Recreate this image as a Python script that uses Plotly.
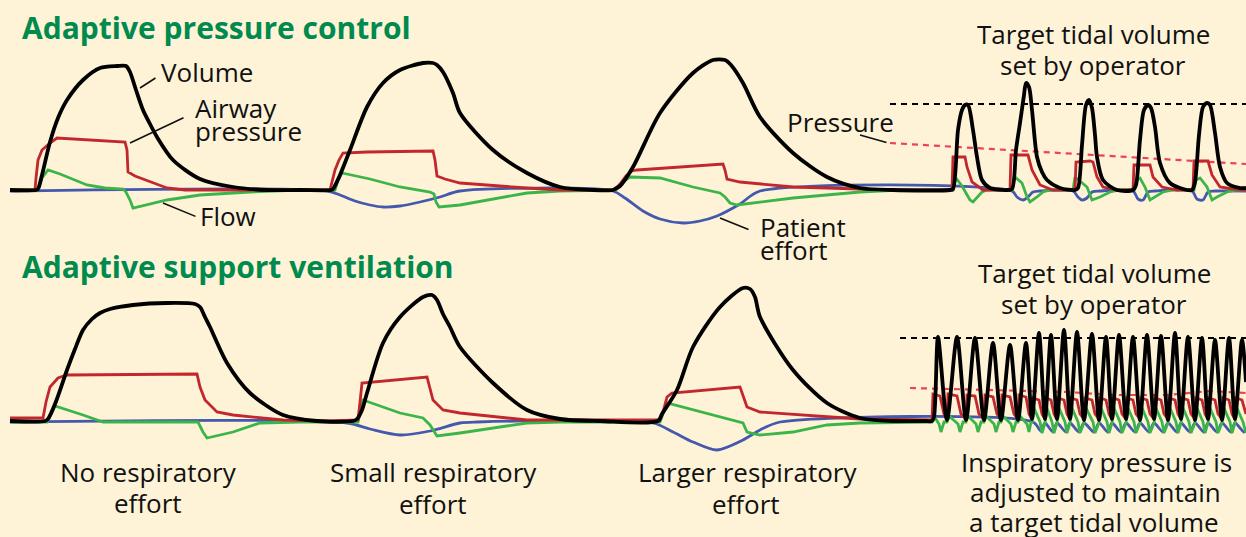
import plotly.graph_objects as go

W, H = 1246, 537
BG = "#FEF3D6"
C_VOL = "#000000"
C_PRES = "#C1272D"
C_FLOW = "#3BB54A"
C_EFF = "#4458AE"
C_TGT_P = "#F0405A"
C_TITLE = "#008A4E"

# ---------------- Top panel: Adaptive pressure control (value = height above baseline) -------------
APC_VOLUME_X = [10, 36, 38, 42, 50, 58, 67, 83, 100, 117, 126, 130, 136, 143, 150, 157, 173, 200, 233, 267, 300, 331,
                333, 340, 350, 367, 383, 400, 423, 433, 437, 443, 453, 460, 493, 527, 560, 593, 613,
                615, 620, 633, 660, 693, 713, 725, 731, 743, 760, 793, 827, 860, 893, 950,
                953, 958, 962, 965, 968, 973, 977, 982, 990, 1007,
                1012, 1016, 1020, 1024, 1026, 1029, 1032, 1037, 1042, 1047, 1060, 1075,
                1078, 1082, 1086, 1089, 1092, 1095, 1097, 1103, 1117, 1133,
                1136, 1140, 1144, 1148, 1151, 1155, 1160, 1170, 1187, 1192,
                1195, 1199, 1203, 1207, 1210, 1215, 1220, 1227, 1240, 1246]
APC_VOLUME_Y = [0, 0, 1, 15, 48, 72, 90, 110, 122, 124, 124, 118, 100, 80, 66, 53, 30, 11, 3, 0, 0, 0,
                1, 15, 40, 83, 107, 120, 127, 127, 125, 118, 97, 77, 40, 17, 3, 0, 0,
                1, 4, 23, 77, 117, 130, 130, 125, 107, 73, 37, 13, 2, 0, 0,
                1, 60, 80, 85, 85, 60, 33, 10, 2, 0,
                1, 40, 67, 95, 107, 103, 80, 33, 18, 10, 2, 0,
                2, 45, 85, 90, 82, 55, 33, 10, 0, 0,
                5, 50, 80, 85, 82, 63, 27, 7, 0, 0,
                8, 55, 83, 87, 85, 57, 23, 7, 2, 2]

APC_PRESSURE_X = [10, 35, 36, 38, 42, 50, 57, 125, 127, 128, 135, 150, 167, 185, 330,
                  332, 335, 339, 343, 367, 433, 435, 437, 445, 460, 527, 560, 614,
                  620, 626, 632, 637, 723, 725, 727, 740, 793, 860, 900, 952,
                  953, 965, 967, 972, 983, 1010,
                  1011, 1028, 1032, 1040, 1053, 1075,
                  1076, 1090, 1093, 1097, 1103, 1117, 1133,
                  1134, 1150, 1153, 1162, 1177, 1193,
                  1194, 1208, 1212, 1220, 1233, 1246]
APC_PRESSURE_Y = [0, 0, 12, 30, 40, 47, 52, 48, 40, 18, 14, 8, 2, 0, 0,
                  8, 20, 30, 37, 38, 39, 30, 14, 11, 7, 2, 0, 0,
                  6, 14, 19, 20, 26, 20, 11, 8, 3, 1, 0, 0,
                  33, 33, 23, 8, 0, 0,
                  35, 35, 20, 5, 0, 0,
                  28, 29, 28, 13, 3, 0, 0,
                  25, 25, 13, 3, 0, 0,
                  29, 29, 15, 3, 1, 0]

APC_FLOW_X = [10, 38, 42, 48, 60, 87, 105, 123, 126, 130, 133, 167, 200, 250, 300, 335,
              338, 342, 370, 400, 430, 434, 436, 439, 460, 527, 560, 616,
              622, 630, 660, 693, 720, 725, 730, 737, 793, 860, 900, 953,
              956, 962, 966, 970, 973, 978, 982, 987, 1012,
              1015, 1022, 1027, 1030, 1037, 1043, 1050, 1073,
              1075, 1087, 1092, 1100, 1110, 1120, 1134,
              1136, 1140, 1145, 1150, 1155, 1163, 1173, 1194,
              1196, 1200, 1207, 1212, 1217, 1227, 1237, 1246]
APC_FLOW_Y = [0, 0, 12, 20, 16, 5, 2, 1, -2, -10, -18, -10, -5, -2, 0, 0,
              10, 17, 11, 3, -2, -4, -12, -17, -15, -3, -1, 0,
              7, 13, 12, 3, -3, -7, -13, -15, -8, -2, 0, 0,
              12, 4, -3, -10, -12, -7, -2, 0, 0,
              13, 7, -7, -12, -7, -2, 0, 0,
              13, 3, -10, -7, -2, 0, 0,
              10, 12, 3, -10, -7, -2, 0, 0,
              10, 12, 3, -10, -7, -2, 0, 0]

APC_EFFORT_X = [10, 327, 340, 355, 370, 383, 400, 420, 440, 460, 613, 625, 643, 660, 683, 700, 717, 740, 760,
                1012, 1017, 1023, 1028, 1033, 1040, 1073, 1078, 1082, 1087, 1092, 1100,
                1133, 1138, 1143, 1148, 1155, 1192, 1197, 1203, 1208, 1215, 1246]
APC_EFFORT_Y = [-1, -1, -5, -11, -15, -17, -16, -12, -7, -1, -1, -8, -21, -29, -33, -31, -26, -14, -1,
                -1, -7, -10, -7, -2, -1, -1, -7, -10, -8, -2, -1,
                -1, -9, -10, -2, -1, -1, -9, -10, -2, -1, -1]

APC_TARGET_VOL_X = [890, 1246]
APC_TARGET_VOL_Y = [86, 86]
APC_TARGET_PRES_X = [890, 1246]
APC_TARGET_PRES_Y = [47, 26]

# ---------------- Bottom panel: Adaptive support ventilation -------------
ASV_VOLUME_X = [10, 45, 48, 55, 67, 75, 83, 92, 100, 110, 133, 167, 195, 200, 205, 210, 227, 250, 283, 317, 353,
                357, 362, 367, 383, 400, 423, 432, 437, 443, 450, 460, 493, 527, 560, 600, 658,
                662, 677, 693, 720, 743, 750, 755, 760, 793, 827, 860, 893, 925,
                932, 934, 938, 947, 957, 966, 975, 984, 993, 1001, 1010, 1018, 1026, 1032, 1039, 1045,
                1051, 1057, 1064, 1070, 1077, 1084, 1092, 1099, 1106, 1112, 1119, 1126, 1133, 1140,
                1147, 1154, 1161, 1168, 1175, 1181, 1188, 1195, 1202, 1208, 1215, 1222, 1229, 1235, 1242, 1246]
ASV_VOLUME_Y = [1, 1, 3, 18, 52, 73, 92, 103, 109, 113, 117, 119, 118, 115, 105, 95, 59, 29, 7, 1, 1,
                3, 12, 29, 79, 105, 125, 127, 122, 108, 95, 75, 39, 12, 3, 1, 1,
                8, 32, 75, 115, 134, 133, 125, 105, 52, 19, 4, 1, 1,
                1, 5, 85, 2, 85, 2, 84, 2, 79, 2, 77, 2, 79, 3, 89, 3,
                87, 3, 92, 3, 90, 2, 88, 2, 85, 3, 87, 3, 85, 2,
                87, 3, 86, 2, 89, 3, 85, 2, 84, 3, 82, 2, 84, 3, 82, 40]

ASV_PRESSURE_X = [10, 43, 46, 50, 58, 67, 197, 200, 205, 217, 233, 283, 330, 358, 360, 362, 427, 433, 443, 460, 527,
                  660, 663, 667, 672, 740, 747, 760, 860, 932,
                  933, 940, 944, 947, 948, 957, 961, 966, 967, 975, 979, 984, 985, 993, 997, 1001,
                  1002, 1010, 1014, 1018, 1019, 1026, 1029, 1032, 1033, 1039, 1042, 1045,
                  1046, 1051, 1054, 1057, 1058, 1064, 1067, 1070, 1071, 1077, 1080, 1084,
                  1085, 1092, 1095, 1099, 1100, 1106, 1109, 1112, 1113, 1119, 1122, 1126,
                  1127, 1133, 1136, 1140, 1141, 1147, 1150, 1154, 1155, 1161, 1164, 1168,
                  1169, 1175, 1178, 1181, 1182, 1188, 1191, 1195, 1196, 1202, 1205, 1208,
                  1209, 1215, 1218, 1222, 1223, 1229, 1232, 1235, 1236, 1242, 1246]
ASV_PRESSURE_Y = [4, 4, 20, 35, 44, 47, 48, 35, 22, 10, 7, 2, 1, 2, 20, 39, 45, 22, 12, 9, 2,
                  2, 10, 25, 29, 35, 15, 10, 3, 2,
                  28, 26, 8, 3, 28, 26, 8, 3, 27, 26, 8, 3, 27, 25, 8, 3,
                  27, 25, 8, 3, 27, 25, 8, 3, 24, 22, 8, 3,
                  24, 22, 8, 3, 24, 22, 8, 3, 24, 22, 8, 3,
                  24, 22, 8, 3, 24, 22, 8, 3, 24, 22, 8, 3,
                  24, 22, 8, 3, 24, 22, 8, 3, 24, 22, 8, 3,
                  24, 22, 8, 3, 24, 22, 8, 3, 24, 22, 8, 3,
                  24, 22, 8, 3, 24, 22, 8, 3, 24, 22, 8]

ASV_FLOW_X = [10, 47, 52, 55, 83, 103, 198, 203, 207, 233, 260, 300, 358, 363, 400, 423, 430, 437, 460, 527, 560,
              660, 667, 743, 747, 760, 793, 827, 860, 932,
              934, 939, 941, 944, 947, 949, 958, 960, 963, 966, 968, 976, 978, 981, 984, 986, 994, 996, 999,
              1001, 1003, 1011, 1013, 1016, 1018, 1020, 1027, 1029, 1031,
              1032, 1034, 1040, 1042, 1045, 1047, 1052, 1054, 1057, 1059, 1065, 1067, 1070, 1072, 1078, 1080,
              1084, 1086, 1093, 1095, 1099, 1101, 1107, 1109, 1112, 1114, 1120, 1122, 1126, 1128, 1134, 1136,
              1140, 1142, 1148, 1150, 1154, 1156, 1162, 1164, 1168, 1170, 1176, 1178, 1181, 1183, 1189, 1191,
              1195, 1197, 1203, 1205, 1208, 1210, 1216, 1218, 1222, 1224, 1230, 1232, 1235, 1237, 1243, 1246]
ASV_FLOW_Y = [0, 0, 10, 16, 7, 0, 0, -10, -16, -10, -1, 0, 0, 22, 9, 4, -3, -14, -11, -1, 0,
              0, 19, -1, -10, -13, -10, -3, -1, 0,
              6, -2, -10, 0, 0, 6, -2, -10, 0, 0, 6, -2, -10, 0, 0, 6, -2, -10, 0,
              0, 6, -2, -10, 0, 0, 6, -2, -10, 0,
              -1, 14, 0, -11, -1, 14, 0, -11, -1, 14, 0, -11, -1, 14, 0, -11,
              -1, 14, 0, -11, -1, 14, 0, -11, -1, 14, 0, -11, -1, 14, 0, -11,
              -1, 14, 0, -11, -1, 14, 0, -11, -1, 14, 0, -11, -1, 14, 0, -11,
              -1, 14, 0, -11, -1, 14, 0, -11, -1, 14, 0, -11, -1, 14, 0, -11]

ASV_EFFORT_X = [10, 347, 370, 400, 430, 460, 477, 653, 673, 693, 717, 743, 760, 780, 1033,
                1041, 1045, 1053, 1057, 1066, 1070, 1079, 1084, 1094, 1099, 1108, 1112, 1121, 1126,
                1135, 1140, 1149, 1154, 1163, 1168, 1177, 1181, 1190, 1195, 1204, 1208, 1217, 1222,
                1231, 1235, 1244, 1246]
ASV_EFFORT_Y = [0, -1, -7, -13, -9, -1, 0, -1, -10, -20, -28, -18, -8, 0, 0,
                -9, -1, -10, -1, -10, -1, -10, -1, -10, -1, -10, -1, -10, -1,
                -10, -1, -10, -1, -10, -1, -10, -1, -10, -1, -10, -1, -10, -1,
                -10, -1, -10, -8]

ASV_TARGET_VOL_X = [900, 1246]
ASV_TARGET_VOL_Y = [84, 84]
ASV_TARGET_PRES_X = [910, 1067, 1113, 1167, 1210, 1246]
ASV_TARGET_PRES_Y = [34, 30, 27, 27, 31, 29]

# ---------------- Text (pixel positions of label centres) -------------
TITLES = [("Adaptive pressure control", 20, 27), ("Adaptive support ventilation", 20, 266)]
LABELS_LEFT = [("Airway", 193, 108), ("pressure", 193, 131), ("Flow", 198, 216),
               ("Patient", 758, 227), ("effort", 758, 250)]
LABELS_CENTER = [("Volume", 207, 72), ("Pressure", 840, 122),
                 ("Target tidal volume", 1093, 34), ("set by operator", 1093, 65),
                 ("Target tidal volume", 1094, 273), ("set by operator", 1094, 304),
                 ("No respiratory", 148, 472), ("effort", 148, 503),
                 ("Small respiratory", 433, 472), ("effort", 433, 504),
                 ("Larger respiratory", 747, 472), ("effort", 746, 504),
                 ("Inspiratory pressure is", 1096, 462), ("adjusted to maintain", 1095, 492),
                 ("a target tidal volume", 1094, 522)]
# leader lines: (tip x, tip y, tail x, tail y) in pixels
LEADERS = [(140, 88, 157, 77), (130, 143, 185, 117), (163, 203, 197, 217),
           (720, 218, 750, 230), (860, 135, 888, 143)]

fig = go.Figure()


def add(xs, ys, color, width, panel, shape="linear", dash=None, smoothing=1.0):
    xa, ya = ("x", "y") if panel == 0 else ("x2", "y2")
    line = dict(color=color, width=width, shape=shape)
    if shape == "spline":
        line["smoothing"] = smoothing
    if dash:
        line["dash"] = dash
    fig.add_trace(go.Scatter(x=xs, y=ys, mode="lines", line=line, xaxis=xa, yaxis=ya,
                             hoverinfo="skip", showlegend=False))


# top panel
add(APC_TARGET_VOL_X, APC_TARGET_VOL_Y, "#000000", 2.2, 0, dash="6px,5px")
add(APC_TARGET_PRES_X, APC_TARGET_PRES_Y, C_TGT_P, 2.2, 0, dash="6px,5px")
add(APC_EFFORT_X, APC_EFFORT_Y, C_EFF, 2.8, 0, shape="spline", smoothing=0.8)
add(APC_FLOW_X, APC_FLOW_Y, C_FLOW, 2.8, 0)
add(APC_PRESSURE_X, APC_PRESSURE_Y, C_PRES, 2.8, 0)
add(APC_VOLUME_X, APC_VOLUME_Y, C_VOL, 3.8, 0, shape="spline", smoothing=0.8)
# bottom panel
add(ASV_TARGET_VOL_X, ASV_TARGET_VOL_Y, "#000000", 2.2, 1, dash="6px,5px")
add(ASV_TARGET_PRES_X, ASV_TARGET_PRES_Y, C_TGT_P, 2.2, 1, dash="6px,5px")
add(ASV_EFFORT_X, ASV_EFFORT_Y, C_EFF, 2.8, 1, shape="spline", smoothing=0.8)
add(ASV_FLOW_X, ASV_FLOW_Y, C_FLOW, 2.8, 1)
add(ASV_PRESSURE_X, ASV_PRESSURE_Y, C_PRES, 2.8, 1)
add(ASV_VOLUME_X, ASV_VOLUME_Y, C_VOL, 3.8, 1, shape="spline", smoothing=0.8)

split = 1 - 268 / H
ax_common = dict(visible=False, range=[0, W], fixedrange=True)
fig.update_layout(
    width=W, height=H, autosize=False,
    margin=dict(l=0, r=0, t=0, b=0),
    paper_bgcolor=BG, plot_bgcolor=BG,
    xaxis=dict(domain=[0, 1], anchor="y", **ax_common),
    xaxis2=dict(domain=[0, 1], anchor="y2", **ax_common),
    yaxis=dict(domain=[split, 1], range=[-78, 190], visible=False, anchor="x"),
    yaxis2=dict(domain=[0, split], range=[-115, 154], visible=False, anchor="x2"),
    showlegend=False,
)

FONT = "Open Sans"
LABEL_SIZE = 26
ann = []
for t, px, py in TITLES:
    ann.append(dict(text="<b>%s</b>" % t, x=px / W, y=1 - py / H, xref="paper", yref="paper",
                    xanchor="left", yanchor="middle", showarrow=False,
                    font=dict(family=FONT, size=30, color=C_TITLE)))
for t, px, py in LABELS_LEFT:
    ann.append(dict(text=t, x=px / W, y=1 - py / H, xref="paper", yref="paper",
                    xanchor="left", yanchor="middle", showarrow=False,
                    font=dict(family=FONT, size=LABEL_SIZE, color="#111111")))
for t, px, py in LABELS_CENTER:
    ann.append(dict(text=t, x=px / W, y=1 - py / H, xref="paper", yref="paper",
                    xanchor="center", yanchor="middle", showarrow=False,
                    font=dict(family=FONT, size=LABEL_SIZE, color="#111111")))
for x0, y0, x1, y1 in LEADERS:
    ann.append(dict(text="", x=x0 / W, y=1 - y0 / H, xref="paper", yref="paper",
                    ax=x1 - x0, ay=y1 - y0, axref="pixel", ayref="pixel",
                    showarrow=True, arrowhead=0, arrowwidth=1.6, arrowcolor="#111111",
                    standoff=0, startstandoff=0))
fig.update_layout(annotations=ann)

fig.write_html("out.html", config={"displayModeBar": False},
               post_script="document.body.style.margin='0';document.body.style.background='%s';" % BG)
